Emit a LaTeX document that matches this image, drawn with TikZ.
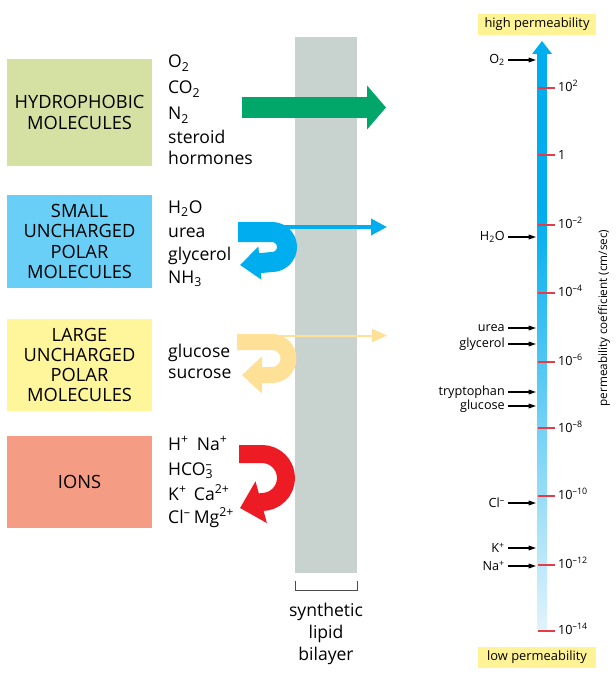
\documentclass[tikz,border=0pt]{standalone}
\usepackage{fontspec}
\setmainfont{Open Sans}
\usepackage{tikz}
\usetikzlibrary{positioning,arrows.meta}
\usepackage{xcolor}
\definecolor{hydrogreen}{RGB}{213,225,163}
\definecolor{polarblue}{RGB}{106,207,246}
\definecolor{polaryellow}{RGB}{255,245,154}
\definecolor{ionred}{RGB}{245,156,133}
\definecolor{arrowgreen}{RGB}{0,166,106}
\definecolor{arrowblue}{RGB}{0,174,239}
\definecolor{arrowyellow}{RGB}{254,224,150}
\definecolor{arrowred}{RGB}{237,28,36}
\definecolor{bilayer}{RGB}{200,210,206}
\definecolor{barlight}{RGB}{225,243,252}
\definecolor{tickred}{RGB}{228,60,72}
\definecolor{permyellow}{RGB}{255,243,150}

\begin{document}
\begin{tikzpicture}[x=0.3mm,y=-0.3mm,>={Triangle[length=2.2mm,width=1.4mm]},
  classbox/.style={fill=#1,minimum width=43.5mm,minimum height=27.6mm,align=center,
    font=\fontsize{15.6}{17.2}\selectfont},
  item/.style={anchor=base west,inner sep=0pt,font=\fontsize{15}{17}\selectfont},
  scaleitem/.style={anchor=east,inner sep=0.9mm,font=\fontsize{10.8}{12}\selectfont},
  ticklab/.style={anchor=west,inner sep=0pt,font=\fontsize{10.8}{12}\selectfont},
  tick/.style={tickred,line width=0.4mm},
  permbox/.style={fill=permyellow,minimum width=35.4mm,minimum height=6.3mm,inner sep=0pt,
    font=\fontsize{11}{13}\selectfont},
  uturn/.style={#1,line width=6mm,line join=round}]
\useasboundingbox (0,0) rectangle (615,679);

\node[classbox=hydrogreen,minimum height=32.1mm] (hydro) at (79.5,112.5) {HYDROPHOBIC\\MOLECULES};
\node[classbox=polarblue] (small) at (79.5,241.5) {SMALL\\UNCHARGED\\POLAR\\MOLECULES};
\node[classbox=polaryellow] (large) at (79.5,365) {LARGE\\UNCHARGED\\POLAR\\MOLECULES};
\node[classbox=ionred] (ions) at (79.5,482) {IONS};

\node[item] (o2) at (168,68) {O\textsubscript{2}};
\node[item] (co2) at (168,94) {CO\textsubscript{2}};
\node[item] (n2) at (168,120) {N\textsubscript{2}};
\node[item] (steroid) at (168,144) {steroid};
\node[item] (hormones) at (168,165) {hormones};
\node[item] (h2o) at (168,213) {H\textsubscript{2}O};
\node[item] (urea) at (168,237) {urea};
\node[item] (glycerol) at (168,260) {glycerol};
\node[item] (nh3) at (168,283) {NH\textsubscript{3}};
\node[item] (glucose) at (168,357) {glucose};
\node[item] (sucrose) at (168,378) {sucrose};
\node[item] (hna) at (168,450) {H\textsuperscript{+}\hspace{2.4mm}Na\textsuperscript{+}};
\node[item] (hco3) at (168,475) {HCO\rlap{\textsuperscript{–}}\textsubscript{3}};
\node[item] (kca) at (168,500) {K\textsuperscript{+}\hspace{2.2mm}Ca\textsuperscript{2+}};
\node[item] (clmg) at (168,523) {Cl\textsuperscript{–}\hspace{1mm}Mg\textsuperscript{2+}};

\fill[bilayer] (295,37) rectangle (357,573);
\draw[gray!60!black,line width=0.3mm] (295,581) -- (295,590) -- (357,590) -- (357,581);
\node[align=center,font=\fontsize{15}{18.5}\selectfont] (bilabel) at (326,634) {synthetic\\lipid\\bilayer};

\coordinate (gs) at (242,107.5);
\coordinate (ge) at (386,107.5);
\draw[arrowgreen,line width=6.3mm,-{Triangle[length=5.7mm,width=12.9mm]}] (gs) -- (ge);

\coordinate (bs) at (238,232);
\coordinate (be) at (240,265);
\draw[uturn=arrowblue,-{Triangle[length=6mm,width=9.6mm]}] (bs) -- (272,232)
  arc[start angle=90,end angle=-90,radius=4.5mm] -- (be);
\coordinate (bt) at (280,227);
\coordinate (bte) at (387,227);
\draw[arrowblue,line width=1.1mm,-{Triangle[length=4.8mm,width=4.8mm]}] (bt) -- (bte);

\coordinate (ys) at (237,342);
\coordinate (ye) at (242,375);
\draw[uturn=arrowyellow,line width=4.8mm,-{Triangle[length=6mm,width=10.8mm]}] (ys) -- (272,342)
  arc[start angle=90,end angle=-90,radius=4.95mm] -- (ye);
\coordinate (yt) at (280,335.5);
\coordinate (yte) at (387,335.5);
\draw[arrowyellow,line width=0.6mm,-{Triangle[length=4.5mm,width=3.9mm]}] (yt) -- (yte);

\coordinate (rs) at (239,454);
\coordinate (re) at (240,508);
\draw[uturn=arrowred,line width=5.4mm,-{Triangle[length=6.6mm,width=12.6mm]}] (rs) -- (262,454)
  arc[start angle=90,end angle=-90,radius=7.2mm] -- (re);

\fill[arrowblue] (537,53) rectangle (547,215);
\shade[top color=arrowblue,bottom color=barlight] (537,214) rectangle (547,631);
\fill[arrowblue] (532,54) -- (542,41) -- (552,54) -- cycle;

\node[ticklab] (t2) at (558,86) {10\textsuperscript{2}};
\node[ticklab] (t0) at (558,155) {1};
\node[ticklab] (tm2) at (558,223) {10\textsuperscript{–2}};
\node[ticklab] (tm4) at (558,291) {10\textsuperscript{–4}};
\node[ticklab] (tm6) at (558,360) {10\textsuperscript{–6}};
\node[ticklab] (tm8) at (558,427) {10\textsuperscript{–8}};
\node[ticklab] (tm10) at (558,494) {10\textsuperscript{–10}};
\node[ticklab] (tm12) at (558,563) {10\textsuperscript{–12}};
\node[ticklab] (tm14) at (558,629) {10\textsuperscript{–14}};
\draw[tick] (538,88) -- (555,88);
\draw[tick] (538,155) -- (555,155);
\draw[tick] (538,225) -- (555,225);
\draw[tick] (538,293) -- (555,293);
\draw[tick] (538,362) -- (555,362);
\draw[tick] (538,428) -- (555,428);
\draw[tick] (538,496) -- (555,496);
\draw[tick] (538,565) -- (555,565);
\draw[tick] (538,631) -- (555,631);

\node[scaleitem] (so2) at (508,60) {O\textsubscript{2}};
\node[scaleitem] (sh2o) at (508,237) {H\textsubscript{2}O};
\node[scaleitem] (surea) at (508,328) {urea};
\node[scaleitem] (sglycerol) at (508,344) {glycerol};
\node[scaleitem] (strypto) at (508,392) {tryptophan};
\node[scaleitem] (sglucose) at (508,406) {glucose};
\node[scaleitem] (scl) at (508,503) {Cl\textsuperscript{–}};
\node[scaleitem] (sk) at (508,548) {K\textsuperscript{+}};
\node[scaleitem] (sna) at (508,566) {Na\textsuperscript{+}};
\coordinate (po2) at (536,60);
\coordinate (ph2o) at (536,237);
\coordinate (purea) at (536,328);
\coordinate (pglycerol) at (536,344);
\coordinate (ptrypto) at (536,392);
\coordinate (pglucose) at (536,406);
\coordinate (pcl) at (536,503);
\coordinate (pk) at (536,548);
\coordinate (pna) at (536,566);
\draw[->,line width=0.35mm] (so2) -- (po2);
\draw[->,line width=0.35mm] (sh2o) -- (ph2o);
\draw[->,line width=0.35mm] (surea) -- (purea);
\draw[->,line width=0.35mm] (sglycerol) -- (pglycerol);
\draw[->,line width=0.35mm] (strypto) -- (ptrypto);
\draw[->,line width=0.35mm] (sglucose) -- (pglucose);
\draw[->,line width=0.35mm] (scl) -- (pcl);
\draw[->,line width=0.35mm] (sk) -- (pk);
\draw[->,line width=0.35mm] (sna) -- (pna);

\node[permbox] (high) at (537,24.5) {high permeability};
\node[permbox] (low) at (537,657.5) {low permeability};
\node[rotate=90,font=\fontsize{10}{12}\selectfont] (coef) at (604,318) {permeability coefficient (cm/sec)};
\end{tikzpicture}
\end{document}
